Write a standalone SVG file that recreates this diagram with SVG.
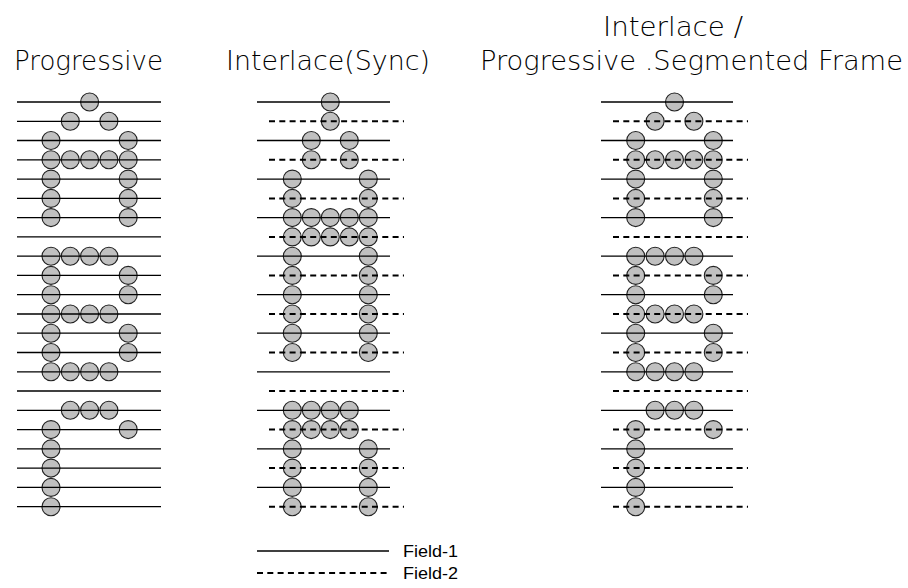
<svg xmlns="http://www.w3.org/2000/svg" xmlns:xlink="http://www.w3.org/1999/xlink" width="908" height="588" viewBox="0 0 908 588">
<style>
.t{font-family:"DejaVu Sans","Liberation Sans",sans-serif;font-weight:200;font-size:27px;fill:#000}
.lg{font-family:"Liberation Sans","DejaVu Sans",sans-serif;font-size:17px;fill:#000}
.s{stroke:#000;stroke-width:1.3;fill:none}
.d{stroke:#000;stroke-width:2;stroke-dasharray:6 4.3;fill:none}
.dot{fill:#c0c0c0;stroke:#222;stroke-width:1.1}
</style>
<defs>
<circle id="c" class="dot" cx="0" cy="0" r="9"/>
</defs>
<rect width="908" height="588" fill="#fff"/>
<g id="titles">
<text class="t" x="14" y="70" textLength="149" lengthAdjust="spacingAndGlyphs">Progressive</text>
<text class="t" x="226" y="70" textLength="204" lengthAdjust="spacingAndGlyphs">Interlace(Sync)</text>
<text class="t" x="603" y="36" textLength="140" lengthAdjust="spacingAndGlyphs">Interlace /</text>
<text class="t" x="480" y="70" textLength="423" lengthAdjust="spacingAndGlyphs">Progressive .Segmented Frame</text>
</g>
<g id="progressive">
<g id="prog-dots">
<use href="#c" x="89.6" y="102"/>
<use href="#c" x="70.3" y="121.3"/><use href="#c" x="108.9" y="121.3"/>
<use href="#c" x="51" y="140.5"/><use href="#c" x="128.2" y="140.5"/>
<use href="#c" x="51" y="159.8"/><use href="#c" x="70.3" y="159.8"/><use href="#c" x="89.6" y="159.8"/><use href="#c" x="108.9" y="159.8"/><use href="#c" x="128.2" y="159.8"/>
<use href="#c" x="51" y="179.1"/><use href="#c" x="128.2" y="179.1"/>
<use href="#c" x="51" y="198.4"/><use href="#c" x="128.2" y="198.4"/>
<use href="#c" x="51" y="217.6"/><use href="#c" x="128.2" y="217.6"/>
<use href="#c" x="51" y="256.2"/><use href="#c" x="70.3" y="256.2"/><use href="#c" x="89.6" y="256.2"/><use href="#c" x="108.9" y="256.2"/>
<use href="#c" x="51" y="275.4"/><use href="#c" x="128.2" y="275.4"/>
<use href="#c" x="51" y="294.7"/><use href="#c" x="128.2" y="294.7"/>
<use href="#c" x="51" y="314"/><use href="#c" x="70.3" y="314"/><use href="#c" x="89.6" y="314"/><use href="#c" x="108.9" y="314"/>
<use href="#c" x="51" y="333.2"/><use href="#c" x="128.2" y="333.2"/>
<use href="#c" x="51" y="352.5"/><use href="#c" x="128.2" y="352.5"/>
<use href="#c" x="51" y="371.8"/><use href="#c" x="70.3" y="371.8"/><use href="#c" x="89.6" y="371.8"/><use href="#c" x="108.9" y="371.8"/>
<use href="#c" x="70.3" y="410.3"/><use href="#c" x="89.6" y="410.3"/><use href="#c" x="108.9" y="410.3"/>
<use href="#c" x="51" y="429.6"/><use href="#c" x="128.2" y="429.6"/>
<use href="#c" x="51" y="448.9"/>
<use href="#c" x="51" y="468.1"/>
<use href="#c" x="51" y="487.4"/>
<use href="#c" x="51" y="506.7"/>
</g>
<g id="prog-lines" class="s">
<line x1="17" y1="102" x2="161" y2="102"/>
<line x1="17" y1="121.3" x2="161" y2="121.3"/>
<line x1="17" y1="140.5" x2="161" y2="140.5"/>
<line x1="17" y1="159.8" x2="161" y2="159.8"/>
<line x1="17" y1="179.1" x2="161" y2="179.1"/>
<line x1="17" y1="198.4" x2="161" y2="198.4"/>
<line x1="17" y1="217.6" x2="161" y2="217.6"/>
<line x1="17" y1="236.9" x2="161" y2="236.9"/>
<line x1="17" y1="256.2" x2="161" y2="256.2"/>
<line x1="17" y1="275.4" x2="161" y2="275.4"/>
<line x1="17" y1="294.7" x2="161" y2="294.7"/>
<line x1="17" y1="314" x2="161" y2="314"/>
<line x1="17" y1="333.2" x2="161" y2="333.2"/>
<line x1="17" y1="352.5" x2="161" y2="352.5"/>
<line x1="17" y1="371.8" x2="161" y2="371.8"/>
<line x1="17" y1="391" x2="161" y2="391"/>
<line x1="17" y1="410.3" x2="161" y2="410.3"/>
<line x1="17" y1="429.6" x2="161" y2="429.6"/>
<line x1="17" y1="448.9" x2="161" y2="448.9"/>
<line x1="17" y1="468.1" x2="161" y2="468.1"/>
<line x1="17" y1="487.4" x2="161" y2="487.4"/>
<line x1="17" y1="506.7" x2="161" y2="506.7"/>
</g>
</g>
<g id="interlace">
<g id="int-dots">
<use href="#c" x="330.3" y="102"/>
<use href="#c" x="330.3" y="121.3"/>
<use href="#c" x="311.3" y="140.5"/><use href="#c" x="349.3" y="140.5"/>
<use href="#c" x="311.3" y="159.8"/><use href="#c" x="349.3" y="159.8"/>
<use href="#c" x="292.3" y="179.1"/><use href="#c" x="368.3" y="179.1"/>
<use href="#c" x="292.3" y="198.4"/><use href="#c" x="368.3" y="198.4"/>
<use href="#c" x="292.3" y="217.6"/><use href="#c" x="311.3" y="217.6"/><use href="#c" x="330.3" y="217.6"/><use href="#c" x="349.3" y="217.6"/><use href="#c" x="368.3" y="217.6"/>
<use href="#c" x="292.3" y="236.9"/><use href="#c" x="311.3" y="236.9"/><use href="#c" x="330.3" y="236.9"/><use href="#c" x="349.3" y="236.9"/><use href="#c" x="368.3" y="236.9"/>
<use href="#c" x="292.3" y="256.2"/><use href="#c" x="368.3" y="256.2"/>
<use href="#c" x="292.3" y="275.4"/><use href="#c" x="368.3" y="275.4"/>
<use href="#c" x="292.3" y="294.7"/><use href="#c" x="368.3" y="294.7"/>
<use href="#c" x="292.3" y="314"/><use href="#c" x="368.3" y="314"/>
<use href="#c" x="292.3" y="333.2"/><use href="#c" x="368.3" y="333.2"/>
<use href="#c" x="292.3" y="352.5"/><use href="#c" x="368.3" y="352.5"/>
<use href="#c" x="292.3" y="410.3"/><use href="#c" x="311.3" y="410.3"/><use href="#c" x="330.3" y="410.3"/><use href="#c" x="349.3" y="410.3"/>
<use href="#c" x="292.3" y="429.6"/><use href="#c" x="311.3" y="429.6"/><use href="#c" x="330.3" y="429.6"/><use href="#c" x="349.3" y="429.6"/>
<use href="#c" x="292.3" y="448.9"/><use href="#c" x="368.3" y="448.9"/>
<use href="#c" x="292.3" y="468.1"/><use href="#c" x="368.3" y="468.1"/>
<use href="#c" x="292.3" y="487.4"/><use href="#c" x="368.3" y="487.4"/>
<use href="#c" x="292.3" y="506.7"/><use href="#c" x="368.3" y="506.7"/>
</g>
<g id="int-field1" class="s">
<line x1="257" y1="102" x2="390" y2="102"/>
<line x1="257" y1="140.5" x2="390" y2="140.5"/>
<line x1="257" y1="179.1" x2="390" y2="179.1"/>
<line x1="257" y1="217.6" x2="390" y2="217.6"/>
<line x1="257" y1="256.2" x2="390" y2="256.2"/>
<line x1="257" y1="294.7" x2="390" y2="294.7"/>
<line x1="257" y1="333.2" x2="390" y2="333.2"/>
<line x1="257" y1="371.8" x2="390" y2="371.8"/>
<line x1="257" y1="410.3" x2="390" y2="410.3"/>
<line x1="257" y1="448.9" x2="390" y2="448.9"/>
<line x1="257" y1="487.4" x2="390" y2="487.4"/>
</g>
<g id="int-field2" class="d">
<line x1="269" y1="121.3" x2="404" y2="121.3"/>
<line x1="269" y1="159.8" x2="404" y2="159.8"/>
<line x1="269" y1="198.4" x2="404" y2="198.4"/>
<line x1="269" y1="236.9" x2="404" y2="236.9"/>
<line x1="269" y1="275.4" x2="404" y2="275.4"/>
<line x1="269" y1="314" x2="404" y2="314"/>
<line x1="269" y1="352.5" x2="404" y2="352.5"/>
<line x1="269" y1="391" x2="404" y2="391"/>
<line x1="269" y1="429.6" x2="404" y2="429.6"/>
<line x1="269" y1="468.1" x2="404" y2="468.1"/>
<line x1="269" y1="506.7" x2="404" y2="506.7"/>
</g>
</g>
<g id="psf">
<g id="psf-dots">
<use href="#c" x="674.5" y="102"/>
<use href="#c" x="655.1" y="121.3"/><use href="#c" x="693.9" y="121.3"/>
<use href="#c" x="635.7" y="140.5"/><use href="#c" x="713.3" y="140.5"/>
<use href="#c" x="635.7" y="159.8"/><use href="#c" x="655.1" y="159.8"/><use href="#c" x="674.5" y="159.8"/><use href="#c" x="693.9" y="159.8"/><use href="#c" x="713.3" y="159.8"/>
<use href="#c" x="635.7" y="179.1"/><use href="#c" x="713.3" y="179.1"/>
<use href="#c" x="635.7" y="198.4"/><use href="#c" x="713.3" y="198.4"/>
<use href="#c" x="635.7" y="217.6"/><use href="#c" x="713.3" y="217.6"/>
<use href="#c" x="635.7" y="256.2"/><use href="#c" x="655.1" y="256.2"/><use href="#c" x="674.5" y="256.2"/><use href="#c" x="693.9" y="256.2"/>
<use href="#c" x="635.7" y="275.4"/><use href="#c" x="713.3" y="275.4"/>
<use href="#c" x="635.7" y="294.7"/><use href="#c" x="713.3" y="294.7"/>
<use href="#c" x="635.7" y="314"/><use href="#c" x="655.1" y="314"/><use href="#c" x="674.5" y="314"/><use href="#c" x="693.9" y="314"/>
<use href="#c" x="635.7" y="333.2"/><use href="#c" x="713.3" y="333.2"/>
<use href="#c" x="635.7" y="352.5"/><use href="#c" x="713.3" y="352.5"/>
<use href="#c" x="635.7" y="371.8"/><use href="#c" x="655.1" y="371.8"/><use href="#c" x="674.5" y="371.8"/><use href="#c" x="693.9" y="371.8"/>
<use href="#c" x="655.1" y="410.3"/><use href="#c" x="674.5" y="410.3"/><use href="#c" x="693.9" y="410.3"/>
<use href="#c" x="635.7" y="429.6"/><use href="#c" x="713.3" y="429.6"/>
<use href="#c" x="635.7" y="448.9"/>
<use href="#c" x="635.7" y="468.1"/>
<use href="#c" x="635.7" y="487.4"/>
<use href="#c" x="635.7" y="506.7"/>
</g>
<g id="psf-field1" class="s">
<line x1="601" y1="102" x2="733" y2="102"/>
<line x1="601" y1="140.5" x2="733" y2="140.5"/>
<line x1="601" y1="179.1" x2="733" y2="179.1"/>
<line x1="601" y1="217.6" x2="733" y2="217.6"/>
<line x1="601" y1="256.2" x2="733" y2="256.2"/>
<line x1="601" y1="294.7" x2="733" y2="294.7"/>
<line x1="601" y1="333.2" x2="733" y2="333.2"/>
<line x1="601" y1="371.8" x2="733" y2="371.8"/>
<line x1="601" y1="410.3" x2="733" y2="410.3"/>
<line x1="601" y1="448.9" x2="733" y2="448.9"/>
<line x1="601" y1="487.4" x2="733" y2="487.4"/>
</g>
<g id="psf-field2" class="d">
<line x1="613" y1="121.3" x2="748" y2="121.3"/>
<line x1="613" y1="159.8" x2="748" y2="159.8"/>
<line x1="613" y1="198.4" x2="748" y2="198.4"/>
<line x1="613" y1="236.9" x2="748" y2="236.9"/>
<line x1="613" y1="275.4" x2="748" y2="275.4"/>
<line x1="613" y1="314" x2="748" y2="314"/>
<line x1="613" y1="352.5" x2="748" y2="352.5"/>
<line x1="613" y1="391" x2="748" y2="391"/>
<line x1="613" y1="429.6" x2="748" y2="429.6"/>
<line x1="613" y1="468.1" x2="748" y2="468.1"/>
<line x1="613" y1="506.7" x2="748" y2="506.7"/>
</g>
</g>
<g id="legend">
<line class="s" x1="257" y1="551" x2="389" y2="551"/>
<line class="d" x1="257" y1="573" x2="390" y2="573"/>
<text class="lg" x="403" y="557" textLength="55" lengthAdjust="spacingAndGlyphs">Field-1</text>
<text class="lg" x="403" y="579" textLength="55" lengthAdjust="spacingAndGlyphs">Field-2</text>
</g>
</svg>
